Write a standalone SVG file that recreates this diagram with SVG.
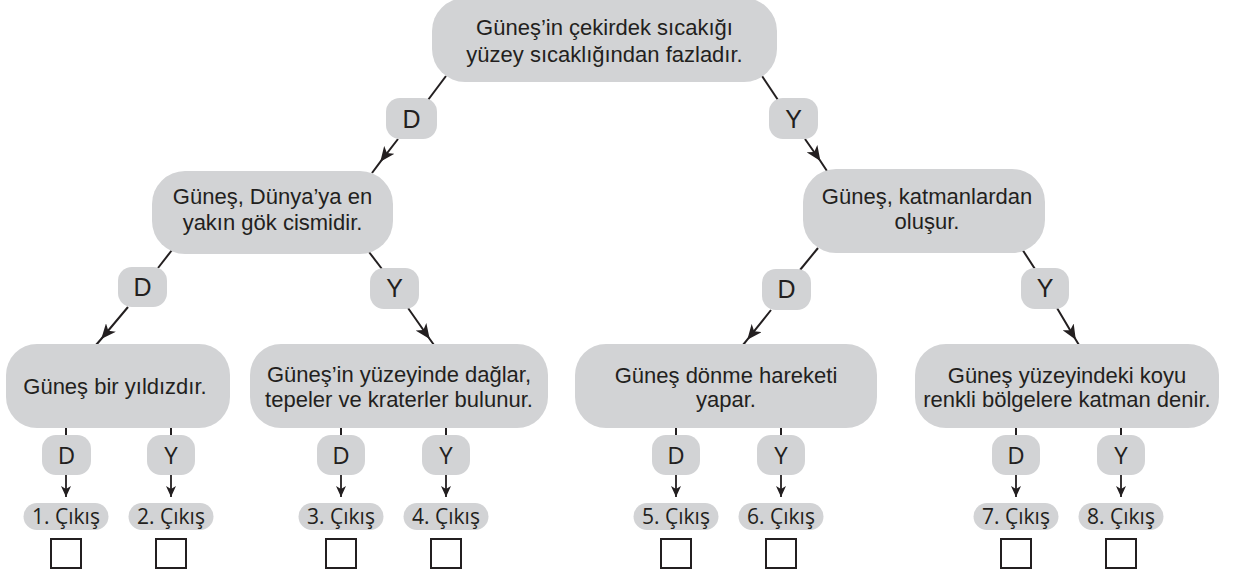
<svg xmlns="http://www.w3.org/2000/svg" width="1234" height="575" viewBox="0 0 1234 575">
<defs>
<style>
.box{fill:#d2d3d5;}
.t{font-family:"Liberation Sans",Arial,sans-serif;font-size:22px;fill:#231f20;text-anchor:middle;}
.lab{font-family:"Liberation Sans",Arial,sans-serif;font-size:25px;fill:#231f20;text-anchor:middle;}
.lab2{font-family:"Open Sans","Noto Sans",sans-serif;font-size:24px;fill:#231f20;text-anchor:middle;}
.ex{font-family:"Open Sans","Noto Sans",sans-serif;font-size:21px;fill:#231f20;text-anchor:middle;}
.c{stroke:#231f20;stroke-width:2;fill:none;}
.cm{stroke:#231f20;stroke-width:2;fill:none;marker-mid:url(#ah);}
.cv{stroke:#231f20;stroke-width:1.8;fill:none;marker-end:url(#as);}
.chk{fill:#fff;stroke:#231f20;stroke-width:2;}
</style>
<marker id="ah" markerWidth="16" markerHeight="13" refX="15" refY="6.5" orient="auto" markerUnits="userSpaceOnUse"><path d="M0,0 L15,6.5 L0,13 L4,6.5 Z" fill="#231f20"/></marker>
<marker id="as" markerWidth="11" markerHeight="10" refX="11" refY="5" orient="auto" markerUnits="userSpaceOnUse"><path d="M0,0 L11,5 L0,10 L3,5 Z" fill="#231f20"/></marker>
</defs>
<rect width="1234" height="575" fill="#fff"/>

<g id="connectors">
<path class="c" d="M446,76 L428,100"/>
<path class="cm" d="M398,139 L380.3,161.8 L372,173"/>
<path class="c" d="M762,76 L778,100"/>
<path class="cm" d="M805,139 L820.4,161 L827,171"/>
<path class="c" d="M172,250 L158,268"/>
<path class="cm" d="M128,307 L101.2,339 L96,345"/>
<path class="c" d="M369,252 L382,269"/>
<path class="cm" d="M408,308 L429.7,339 L434,345"/>
<path class="c" d="M818,248 L800,270"/>
<path class="cm" d="M771,310 L747.3,339.7 L743,345"/>
<path class="c" d="M1022,249 L1035,269"/>
<path class="cm" d="M1057,308 L1075.8,339.7 L1079,345"/>
<path class="c" d="M66,426 V436 M171,426 V436 M341,426 V436 M446,426 V436 M676,426 V436 M781,426 V436 M1016,426 V436 M1121,426 V436"/>
<path class="cv" d="M66,475 V497"/>
<path class="cv" d="M171,475 V497"/>
<path class="cv" d="M341,475 V497"/>
<path class="cv" d="M446,475 V497"/>
<path class="cv" d="M676,475 V497"/>
<path class="cv" d="M781,475 V497"/>
<path class="cv" d="M1016,475 V497"/>
<path class="cv" d="M1121,475 V497"/>
</g>

<g id="n_root">
<rect class="box" x="432" y="-2" width="345" height="84" rx="33"/>
<text class="t" x="604.5" y="35">Güneş’in çekirdek sıcakığı</text>
<text class="t" x="604.5" y="62">yüzey sıcaklığından fazladır.</text>
</g>
<g id="l_root_D"><rect class="box" x="386" y="98" width="51" height="41" rx="14"/><text class="lab" x="411.5" y="127.5">D</text></g>
<g id="l_root_Y"><rect class="box" x="769" y="98" width="49" height="41" rx="14"/><text class="lab" x="793.5" y="127.5">Y</text></g>

<g id="n_left">
<rect class="box" x="152" y="171" width="241" height="83" rx="33"/>
<text class="t" x="272.5" y="204">Güneş, Dünya’ya en</text>
<text class="t" x="272.5" y="230">yakın gök cismidir.</text>
</g>
<g id="n_right">
<rect class="box" x="803" y="169" width="242" height="84" rx="33"/>
<text class="t" x="927" y="204">Güneş, katmanlardan</text>
<text class="t" x="927" y="229">oluşur.</text>
</g>
<g id="l_left_D"><rect class="box" x="118" y="267" width="49" height="40" rx="14"/><text class="lab" x="142.5" y="296">D</text></g>
<g id="l_left_Y"><rect class="box" x="370" y="268" width="49" height="41" rx="14"/><text class="lab" x="394.5" y="297">Y</text></g>
<g id="l_right_D"><rect class="box" x="762" y="269" width="49" height="41" rx="14"/><text class="lab" x="786.5" y="298">D</text></g>
<g id="l_right_Y"><rect class="box" x="1021" y="268" width="48" height="41" rx="14"/><text class="lab" x="1045" y="297">Y</text></g>

<g id="n_ll">
<rect class="box" x="6" y="344" width="224" height="84" rx="31"/>
<text class="t" x="115" y="394">Güneş bir yıldızdır.</text>
</g>
<g id="n_lr">
<rect class="box" x="250" y="344" width="298" height="84" rx="31"/>
<text class="t" x="399" y="382">Güneş’in yüzeyinde dağlar,</text>
<text class="t" x="399" y="407">tepeler ve kraterler bulunur.</text>
</g>
<g id="n_rl">
<rect class="box" x="575" y="344" width="302" height="84" rx="31"/>
<text class="t" x="726" y="383">Güneş dönme hareketi</text>
<text class="t" x="726" y="407">yapar.</text>
</g>
<g id="n_rr">
<rect class="box" x="915" y="344" width="304" height="84" rx="31"/>
<text class="t" x="1067" y="383">Güneş yüzeyindeki koyu</text>
<text class="t" x="1067" y="407">renkli bölgelere katman denir.</text>
</g>

<g id="l_1"><rect class="box" x="42" y="435" width="49" height="40" rx="14"/><text class="lab2" x="66.5" y="463.5">D</text></g>
<g id="l_2"><rect class="box" x="147" y="435" width="48" height="40" rx="14"/><text class="lab2" x="171" y="463.5">Y</text></g>
<g id="l_3"><rect class="box" x="317" y="435" width="48" height="40" rx="14"/><text class="lab2" x="341" y="463.5">D</text></g>
<g id="l_4"><rect class="box" x="422" y="435" width="48" height="40" rx="14"/><text class="lab2" x="446" y="463.5">Y</text></g>
<g id="l_5"><rect class="box" x="652" y="435" width="48" height="40" rx="14"/><text class="lab2" x="676" y="463.5">D</text></g>
<g id="l_6"><rect class="box" x="757" y="435" width="48" height="40" rx="14"/><text class="lab2" x="781" y="463.5">Y</text></g>
<g id="l_7"><rect class="box" x="992" y="435" width="48" height="40" rx="14"/><text class="lab2" x="1016" y="463.5">D</text></g>
<g id="l_8"><rect class="box" x="1097" y="435" width="48" height="40" rx="14"/><text class="lab2" x="1121" y="463.5">Y</text></g>

<g id="e_1"><rect class="box" x="23.5" y="503" width="85" height="27" rx="13.5"/><text class="ex" x="66" y="524">1. Çıkış</text><rect class="chk" x="51" y="539" width="30" height="29"/></g>
<g id="e_2"><rect class="box" x="128.5" y="503" width="85" height="27" rx="13.5"/><text class="ex" x="171" y="524">2. Çıkış</text><rect class="chk" x="156" y="539" width="30" height="29"/></g>
<g id="e_3"><rect class="box" x="298.5" y="503" width="85" height="27" rx="13.5"/><text class="ex" x="341" y="524">3. Çıkış</text><rect class="chk" x="326" y="539" width="30" height="29"/></g>
<g id="e_4"><rect class="box" x="403.5" y="503" width="85" height="27" rx="13.5"/><text class="ex" x="446" y="524">4. Çıkış</text><rect class="chk" x="431" y="539" width="30" height="29"/></g>
<g id="e_5"><rect class="box" x="633.5" y="503" width="85" height="27" rx="13.5"/><text class="ex" x="676" y="524">5. Çıkış</text><rect class="chk" x="661" y="539" width="30" height="29"/></g>
<g id="e_6"><rect class="box" x="738.5" y="503" width="85" height="27" rx="13.5"/><text class="ex" x="781" y="524">6. Çıkış</text><rect class="chk" x="766" y="539" width="30" height="29"/></g>
<g id="e_7"><rect class="box" x="973.5" y="503" width="85" height="27" rx="13.5"/><text class="ex" x="1016" y="524">7. Çıkış</text><rect class="chk" x="1001" y="539" width="30" height="29"/></g>
<g id="e_8"><rect class="box" x="1078.5" y="503" width="85" height="27" rx="13.5"/><text class="ex" x="1121" y="524">8. Çıkış</text><rect class="chk" x="1106" y="539" width="30" height="29"/></g>
</svg>
